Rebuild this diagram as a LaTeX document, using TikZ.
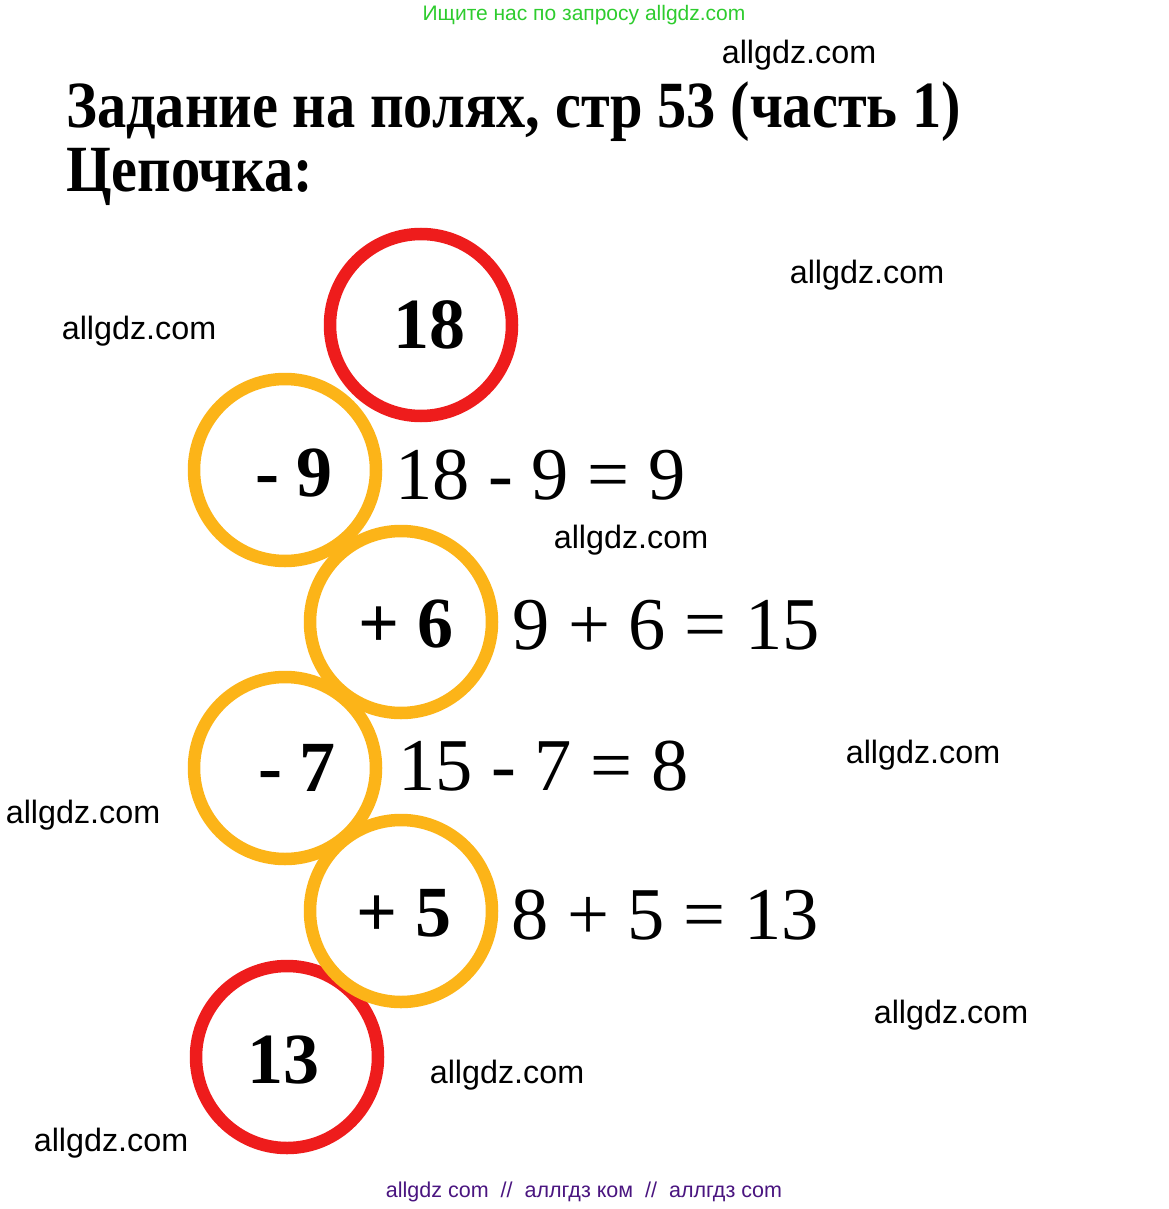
\documentclass[tikz,border=0pt]{standalone}
\usepackage{fontspec}
\setmainfont{Liberation Serif}
\newfontfamily\wmfont{Liberation Sans}
\definecolor{ringred}{HTML}{EE1C1C}
\definecolor{ringorange}{HTML}{FCB418}
\definecolor{topgreen}{HTML}{2ECC2E}
\definecolor{botpurple}{HTML}{4A1580}
\tikzset{
  redring/.style={draw=ringred, line width=12.5pt, circle, minimum size=182pt, inner sep=0pt},
  orangering/.style={draw=ringorange, line width=12.5pt, circle, minimum size=182pt, inner sep=0pt},
  ringtext/.style={font=\fontsize{72}{72}\selectfont\bfseries, inner sep=0pt},
  eqtext/.style={font=\fontsize{74.5}{74.5}\selectfont, inner sep=0pt, anchor=west},
  watermark/.style={font=\wmfont\fontsize{32.3}{32.3}\selectfont, inner sep=0pt},
  titletext/.style={font=\fontsize{66}{66}\selectfont\bfseries, inner sep=0pt, anchor=base west}
}
\begin{document}
\begin{tikzpicture}[x=1pt,y=-1pt]
\useasboundingbox[fill=white] (0,0) rectangle (1168,1209);
% header / footer
\node[font=\wmfont\fontsize{21}{21}\selectfont, text=topgreen, inner sep=0pt] (hdr) at (584,15) {Ищите нас по запросу allgdz.com};
\node[font=\wmfont\fontsize{21.5}{21.5}\selectfont, text=botpurple, inner sep=0pt] (ftr) at (584,1192) {allgdz com\ \ //\ \ аллгдз ком\ \ //\ \ аллгдз com};
% title
\node[titletext] (t1) at (66,128) {\scalebox{0.885}[1]{Задание на полях, стр 53 (часть 1)}};
\node[titletext] (t2) at (66,192) {\scalebox{0.885}[1]{Цепочка:}};
% rings
\node[redring] (c13) at (287,1057) {};
\node[orangering] (c1) at (285,470) {};
\node[orangering] (c2) at (401,622) {};
\node[orangering] (c3) at (285,768) {};
\node[orangering] (c4) at (401,911) {};
\node[redring] (c18) at (421,325) {};
% ring labels
\node[ringtext] (l18) at (429,325) {18};
\node[ringtext] (l1) at (294,473) {- 9};
\node[ringtext] (l2) at (406,624) {+ 6};
\node[ringtext] (l3) at (297,768) {- 7};
\node[ringtext] (l4) at (404,913) {+ 5};
\node[ringtext] (l13) at (283,1060) {13};
% equations
\node[eqtext] (e1) at (395,475) {18 - 9 = 9};
\node[eqtext] (e2) at (512,625) {9 + 6 = 15};
\node[eqtext] (e3) at (398,766) {15 - 7 = 8};
\node[eqtext] (e4) at (511,915) {8 + 5 = 13};
% watermarks
\node[watermark] (w1) at (799,55) {allgdz.com};
\node[watermark] (w2) at (867,275) {allgdz.com};
\node[watermark] (w3) at (139,331) {allgdz.com};
\node[watermark] (w4) at (631,540) {allgdz.com};
\node[watermark] (w5) at (923,755) {allgdz.com};
\node[watermark] (w6) at (83,815) {allgdz.com};
\node[watermark] (w7) at (951,1015) {allgdz.com};
\node[watermark] (w8) at (507,1075) {allgdz.com};
\node[watermark] (w9) at (111,1143) {allgdz.com};
\end{tikzpicture}
\end{document}
